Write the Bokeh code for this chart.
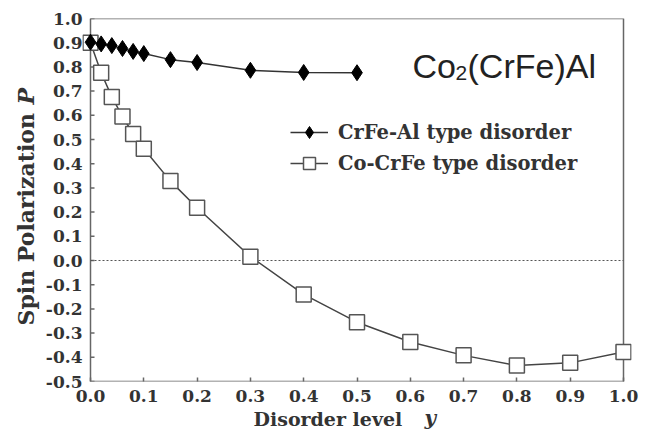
from bokeh.plotting import figure
from bokeh.models import Range1d, FixedTicker, PrintfTickFormatter, Label, Legend, LegendItem, Title
from bokeh.embed import file_html
from bokeh.resources import INLINE

# ---- data ----
x_crfe_al = [0.0, 0.02, 0.04, 0.06, 0.08, 0.10, 0.15, 0.20, 0.30, 0.40, 0.50]
p_crfe_al = [0.902, 0.895, 0.888, 0.876, 0.864, 0.855, 0.830, 0.818, 0.786, 0.777, 0.776]

x_co_crfe = [0.0, 0.02, 0.04, 0.06, 0.08, 0.10, 0.15, 0.20, 0.30, 0.40, 0.50, 0.60, 0.70, 0.80, 0.90, 1.00]
p_co_crfe = [0.900, 0.776, 0.676, 0.595, 0.523, 0.462, 0.328, 0.218, 0.016, -0.140, -0.255,
             -0.337, -0.392, -0.434, -0.423, -0.378]

x_ticks = [0.0, 0.1, 0.2, 0.3, 0.4, 0.5, 0.6, 0.7, 0.8, 0.9, 1.0]
y_ticks = [-0.5, -0.4, -0.3, -0.2, -0.1, 0.0, 0.1, 0.2, 0.3, 0.4, 0.5, 0.6, 0.7, 0.8, 0.9, 1.0]
x_lim = [0.0, 1.0]
y_lim = [-0.5, 1.0]

label_1 = "CrFe-Al type disorder"
label_2 = "Co-CrFe type disorder"

# ---- layout ----
W, H = 645, 430
pad_px = 8
box_l, box_r, box_t, box_b = 90, 623, 18, 381
frame_l, frame_r = box_l - pad_px, box_r + pad_px
xpx = (box_r - box_l) / (x_lim[1] - x_lim[0])
xpad = pad_px / xpx

p = figure(width=W, height=H, output_backend="svg", toolbar_location=None,
           x_range=Range1d(x_lim[0] - xpad, x_lim[1] + xpad),
           y_range=Range1d(y_lim[0], y_lim[1]),
           min_border_left=frame_l, min_border_right=W - frame_r,
           min_border_top=box_t, min_border_bottom=H - box_b)
p.outline_line_color = None
p.xgrid.visible = False
p.ygrid.visible = False
p.background_fill_color = "white"
p.border_fill_color = "white"

serif = "DejaVu Serif"
for ax, ticks in ((p.xaxis[0], x_ticks), (p.yaxis[0], y_ticks)):
    ax.ticker = FixedTicker(ticks=ticks)
    ax.formatter = PrintfTickFormatter(format="%.1f")
    ax.axis_line_color = None
    ax.major_tick_line_color = "#666666"
    ax.major_tick_line_width = 1.5
    ax.major_tick_in = 4
    ax.major_tick_out = 0
    ax.minor_tick_line_color = None
    ax.major_label_text_font = serif
    ax.major_label_text_font_style = "bold"
    ax.major_label_text_font_size = "17px"
    ax.major_label_text_color = "#333333"
p.xaxis[0].major_label_standoff = 8
p.yaxis[0].major_label_standoff = 0
p.yaxis[0].major_tick_line_color = None

# box
p.quad(left=x_lim[0], right=x_lim[1], bottom=y_lim[0], top=y_lim[1],
       fill_alpha=0, line_color="#666666", line_width=1.5)
# y ticks on the box edge
p.ray(x=x_lim[0], y=y_ticks, length=4, length_units="screen", angle=0,
      line_color="#666666", line_width=1.5)
# zero dotted line
p.line(x_lim, [0, 0], line_color="#555555", line_width=1, line_dash="2 2")

# series
l2 = p.line(x_co_crfe, p_co_crfe, line_color="#444444", line_width=1.5)
m2 = p.scatter(x_co_crfe, p_co_crfe, marker="square", size=15,
               fill_color="white", line_color="#555555", line_width=1.5)
l1 = p.line(x_crfe_al, p_crfe_al, line_color="#333333", line_width=1.5)
m1 = p.scatter(x_crfe_al, p_crfe_al, marker="diamond", size=16,
               fill_color="black", line_color="black")

leg = Legend(items=[LegendItem(label=label_1, renderers=[l1, m1]),
                    LegendItem(label=label_2, renderers=[l2, m2])],
             location=(290 - frame_l, box_b - 178), glyph_width=38, glyph_height=30,
             label_height=30, spacing=1, padding=0, margin=0,
             label_standoff=10,
             label_text_font=serif, label_text_font_style="bold",
             label_text_font_size="19.5px", label_text_color="#333333",
             border_line_alpha=0, background_fill_alpha=0)
p.add_layout(leg)

# axis titles (titles in the side panels)
tkw = dict(text_font=serif, text_color="#333333", align="left")
p.add_layout(Title(text="Spin Polarization", text_font_style="bold", text_font_size="22px",
                   vertical_align="middle", offset=box_b - 325, standoff=6, **tkw), "left")
p.add_layout(Title(text="P", text_font_style="bold italic", text_font_size="22px",
                   vertical_align="bottom", offset=box_b - 104, standoff=-60, **tkw), "left")
p.add_layout(Title(text="Disorder level", text_font_style="bold", text_font_size="19px",
                   vertical_align="bottom", offset=253 - frame_l, standoff=-51, **tkw), "below")
p.add_layout(Title(text="y", text_font_style="bold italic", text_font_size="20px",
                   vertical_align="bottom", offset=424 - frame_l, standoff=-51, **tkw), "below")

# compound label
def dx(px):
    return x_lim[0] + (px - box_l) / xpx

ypx = (box_b - box_t) / (y_lim[1] - y_lim[0])

def dy(py):
    return y_lim[1] - (py - box_t) / ypx

sans = "Liberation Sans"
p.add_layout(Label(x=dx(412), y=dy(65), text="Co", text_align="left", text_baseline="alphabetic",
                   text_font=sans, text_font_size="34px", text_color="#222222"))
p.add_layout(Label(x=dx(455), y=dy(72), text="2", text_align="left", text_baseline="alphabetic",
                   text_font=sans, text_font_size="21px", text_color="#222222"))
p.add_layout(Label(x=dx(467), y=dy(65), text="(CrFe)Al", text_align="left", text_baseline="alphabetic",
                   text_font=sans, text_font_size="34px", text_color="#222222"))

open("out.html", "w").write(file_html(p, INLINE))
